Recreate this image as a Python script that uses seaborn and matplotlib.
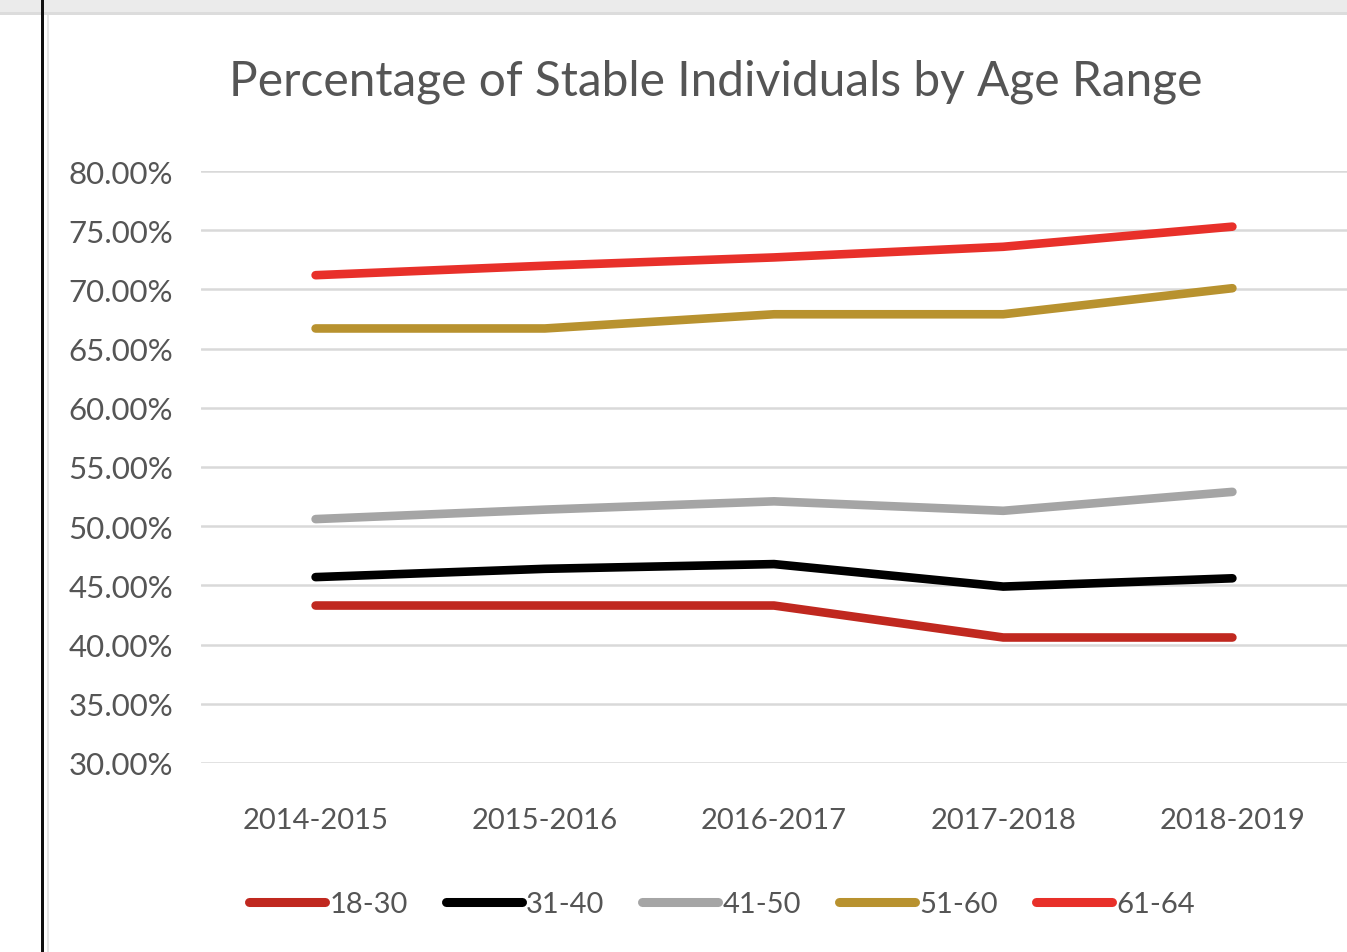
import pandas as pd
import matplotlib.pyplot as plt
import matplotlib.ticker as ticker
from matplotlib.patches import Rectangle
import seaborn as sns

# values (percent)
years = ["2014-2015", "2015-2016", "2016-2017", "2017-2018", "2018-2019"]
age_18_30 = [43.3, 43.3, 43.3, 40.6, 40.6]
age_31_40 = [45.7, 46.4, 46.8, 44.9, 45.6]
age_41_50 = [50.6, 51.4, 52.1, 51.3, 52.9]
age_51_60 = [66.7, 66.7, 67.9, 67.9, 70.1]
age_61_64 = [71.2, 72.0, 72.7, 73.6, 75.3]
groups = ["18-30", "31-40", "41-50", "51-60", "61-64"]
colors = ["#C0281F", "#000000", "#A5A5A5", "#B8922F", "#E8302A"]

df = pd.DataFrame({
    "year": years * 5,
    "pct": age_18_30 + age_31_40 + age_41_50 + age_51_60 + age_61_64,
    "age": [g for g in groups for _ in years],
})

sns.set_style("white")
plt.rcParams["font.family"] = ["Lato", "DejaVu Sans"]
txt = "#555555"

W, H = 1347, 953
fig = plt.figure(figsize=(W / 100, H / 100), dpi=100)
fig.patch.set_facecolor("white")

# screenshot frame: grey band on top, black rule on the left
fig.patches.append(Rectangle((0, 1 - 13 / H), 1, 13 / H, transform=fig.transFigure,
                             facecolor="#EBEBEB", edgecolor="none", zorder=0))
fig.patches.append(Rectangle((0, 1 - 16 / H), 1, 3 / H, transform=fig.transFigure,
                             facecolor="#DCDCDC", edgecolor="none", zorder=0))
fig.patches.append(Rectangle((41 / W, 0), 2.5 / W, 1, transform=fig.transFigure,
                             facecolor="#111111", edgecolor="none", zorder=1))
fig.patches.append(Rectangle((47 / W, 0), 2 / W, 1 - 16 / H, transform=fig.transFigure,
                             facecolor="#E6E6E6", edgecolor="none", zorder=0))

ax = fig.add_axes([201 / W, 1 - 764 / H, 1 - 201 / W, (764 - 172) / H])
ax.set_facecolor("none")

sns.lineplot(data=df, x="year", y="pct", hue="age", hue_order=groups,
             palette=colors, linewidth=6.2, sort=False, ax=ax)

ax.set_ylim(30, 80)
ax.set_xlim(-0.5, 4.5)
ax.yaxis.set_major_locator(ticker.MultipleLocator(5))
ax.yaxis.set_major_formatter(ticker.FuncFormatter(lambda v, p: f"{v:.2f}%"))
ax.grid(axis="y", color="#D9D9D9", linewidth=1.8)
ax.set_axisbelow(True)
for s in ax.spines.values():
    s.set_visible(False)
ax.tick_params(axis="both", length=0, labelsize=21, labelcolor=txt)
ax.tick_params(axis="y", labelsize=22.5, pad=20)
ax.tick_params(axis="x", pad=32)
ax.set_xlabel("")
ax.set_ylabel("")

handles, labels = ax.get_legend_handles_labels()
ax.get_legend().remove()
leg = fig.legend(handles, labels, loc="center", bbox_to_anchor=(722 / W, 1 - 905 / H),
                 ncol=5, frameon=False, fontsize=21, handlelength=2.6,
                 handletextpad=0.15, columnspacing=1.3)
for t in leg.get_texts():
    t.set_color(txt)
for l in leg.get_lines():
    l.set_linewidth(6.5)

fig.text(716 / W, 1 - 82 / H, "Percentage of Stable Individuals by Age Range",
         ha="center", va="center", fontsize=34.5, color=txt)

plt.savefig("out.png", dpi=100)
